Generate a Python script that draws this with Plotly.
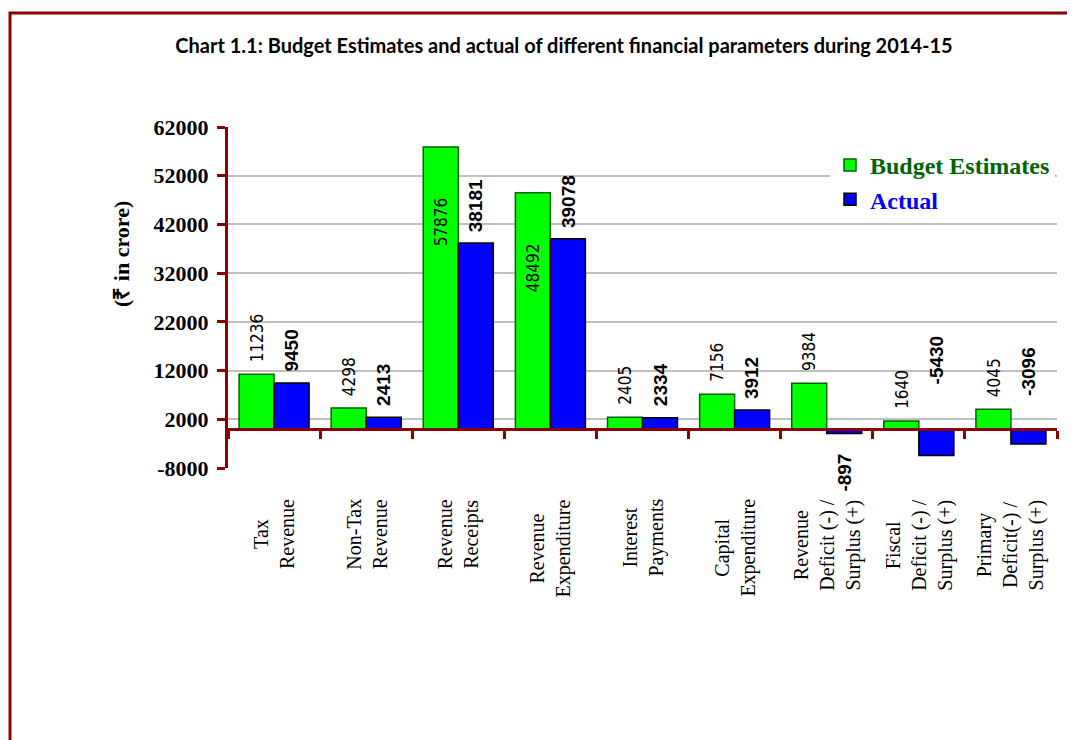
import plotly.graph_objects as go

# ---------------- data ----------------
categories = [
    "Tax<br>Revenue",
    "Non-Tax<br>Revenue",
    "Revenue<br>Receipts",
    "Revenue<br>Expenditure",
    "Interest<br>Payments",
    "Capital<br>Expenditure",
    "Revenue<br>Deficit (-) /<br>Surplus (+)",
    "Fiscal<br>Deficit (-) /<br>Surplus (+)",
    "Primary<br>Deficit(-) /<br>Surplus (+)",
]
budget_estimates = [11236, 4298, 57876, 48492, 2405, 7156, 9384, 1640, 4045]
actual = [9450, 2413, 38181, 39078, 2334, 3912, -897, -5430, -3096]
series_names = ["Budget Estimates", "Actual"]
y_tick_values = [-8000, 2000, 12000, 22000, 32000, 42000, 52000, 62000]
y_tick_labels = ["-8000", "2000", "12000", "22000", "32000", "42000", "52000", "62000"]
title_text = "Chart 1.1: Budget Estimates and actual of different financial parameters during 2014-15"
y_title = "(₹ in crore)"

# label placement styles (per bar)
budget_label_pos = ["above", "above", "inside", "inside", "above", "above", "above", "above", "above"]
actual_label_pos = ["above", "above", "above", "above", "above", "above", "below", "mirror", "mirror"]

# ---------------- style ----------------
PAGE_OFF = 8              # browser body margin
W, H = 1075 - PAGE_OFF, 740 - PAGE_OFF
ML, MR, MT, MB = 220, 18, 119, 272
DARK_RED = "#8B0000"
GREEN = "#00FF00"
BLUE = "#0000FF"
LEGEND_GREEN = "#006400"
YMIN, YMAX = y_tick_values[0], y_tick_values[-1]
BARGAP = 0.24
OFFSET = (1 - BARGAP) / 4  # centre offset of each bar in a group

plot_w = W - ML - MR
plot_h = H - MT - MB


def px_x(px):  # page pixel -> paper x
    return (px - PAGE_OFF - ML) / plot_w


def px_y(py):  # page pixel -> paper y
    return (H - MB - (py - PAGE_OFF)) / plot_h


serif = "Liberation Serif, Times New Roman, serif"

fig = go.Figure()
fig.add_trace(go.Bar(
    x=categories, y=budget_estimates, name=f"<span style='color:{LEGEND_GREEN}'>{series_names[0]}</span>",
    marker=dict(color=GREEN, line=dict(color="#006400", width=1.5)),
    hoverinfo="skip",
))
fig.add_trace(go.Bar(
    x=categories, y=actual, name=f"<span style='color:{BLUE}'>{series_names[1]}</span>",
    marker=dict(color=BLUE, line=dict(color="#000000", width=1.5)),
    hoverinfo="skip",
))

annotations = []
green_font = dict(family="Liberation Sans Narrow, DejaVu Sans Condensed, Liberation Sans, sans-serif",
                  size=17, color="black")
blue_font = dict(family="Liberation Sans, Arial, sans-serif", size=19, color="black", weight="bold")

for i, (b, a) in enumerate(zip(budget_estimates, actual)):
    mode = budget_label_pos[i]
    if mode == "inside":
        annotations.append(dict(x=i - OFFSET, y=b, xref="x", yref="y", text=str(b), showarrow=False,
                                textangle=-90, yanchor="top", xanchor="center", yshift=-48, font=green_font))
    else:
        annotations.append(dict(x=i - OFFSET, y=b, xref="x", yref="y", text=str(b), showarrow=False,
                                textangle=-90, yanchor="bottom", xanchor="center", yshift=10, font=green_font))
    mode = actual_label_pos[i]
    if mode == "above":
        annotations.append(dict(x=i + OFFSET, y=a, xref="x", yref="y", text=str(a), showarrow=False,
                                textangle=-90, yanchor="bottom", xanchor="center", yshift=9, font=blue_font))
    elif mode == "below":
        annotations.append(dict(x=i + OFFSET, y=a, xref="x", yref="y", text=str(a), showarrow=False,
                                textangle=-90, yanchor="top", xanchor="center", yshift=-18, font=blue_font))
    else:  # mirror
        annotations.append(dict(x=i + OFFSET, y=-a, xref="x", yref="y", text=str(a), showarrow=False,
                                textangle=-90, yanchor="bottom", xanchor="center", yshift=16, font=blue_font))

# category labels
for i, c in enumerate(categories):
    annotations.append(dict(x=i, y=px_y(497), xref="x", yref="paper", text=c, showarrow=False,
                            textangle=-90, yanchor="top", xanchor="center", align="center",
                            font=dict(family=serif, size=20, color="black")))

# y-axis title
annotations.append(dict(x=px_x(121), y=px_y(254), xref="paper", yref="paper", text=y_title,
                        showarrow=False, textangle=-90, xanchor="center", yanchor="middle",
                        font=dict(family=serif, size=22, color="black", weight="bold")))

fig.update_layout(
    width=W, height=H,
    margin=dict(l=ML, r=MR, t=MT, b=MB),
    paper_bgcolor="white", plot_bgcolor="white",
    barmode="group", bargap=BARGAP, bargroupgap=0,
    title=dict(text=title_text, x=(564 - PAGE_OFF) / W, xanchor="center", xref="container",
               y=1 - (46 - PAGE_OFF) / H, yanchor="middle", yref="container",
               font=dict(family="Lato, Liberation Sans, sans-serif", size=20, color="black", weight="bold")),
    showlegend=True,
    legend=dict(x=px_x(830), y=px_y(143), xanchor="left", yanchor="top", bgcolor="white",
                font=dict(family=serif, size=24, weight="bold"),
                tracegroupgap=0, itemclick=False),
    xaxis=dict(
        type="category", anchor="free", position=(0 - YMIN) / (YMAX - YMIN),
        showgrid=False, showticklabels=False,
        showline=True, linecolor=DARK_RED, linewidth=3,
        ticks="outside", tickson="boundaries", ticklen=8, tickwidth=3, tickcolor=DARK_RED,
        range=[-0.5, len(categories) - 0.5],
    ),
    yaxis=dict(
        range=[YMIN, YMAX], tickvals=y_tick_values, ticktext=y_tick_labels,
        showgrid=True, gridcolor="#C0C0C0", gridwidth=1.5,
        zeroline=True, zerolinecolor=DARK_RED, zerolinewidth=3,
        showline=True, linecolor=DARK_RED, linewidth=3,
        ticks="outside", ticklen=8, tickwidth=3, tickcolor=DARK_RED,
        ticklabelstandoff=4,
        tickfont=dict(family=serif, size=22, color="black", weight="bold"),
    ),
    annotations=annotations,
    shapes=[dict(type="rect", xref="paper", yref="paper",
                 x0=px_x(10), x1=px_x(1100), y0=px_y(800), y1=px_y(13),
                 line=dict(color=DARK_RED, width=3), fillcolor="rgba(0,0,0,0)", layer="above")],
)

fig.write_html("out.html")
